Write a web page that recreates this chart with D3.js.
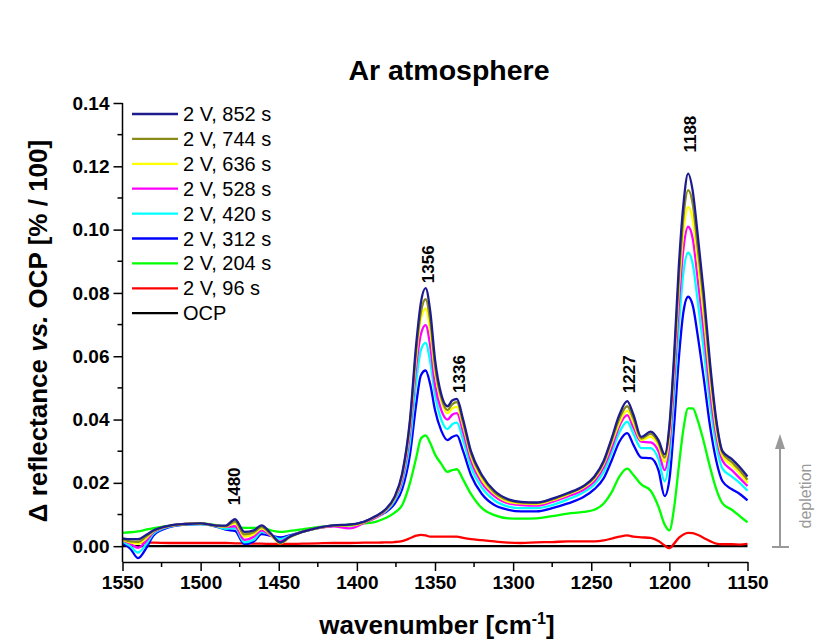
<!DOCTYPE html>
<html>
<head>
<meta charset="utf-8">
<script src="https://cdn.jsdelivr.net/npm/d3@7"></script>
<style>
  html, body { margin: 0; padding: 0; background: #fff; }
  svg { display: block; font-family: "Liberation Sans", Arial, sans-serif; }
</style>
</head>
<body>
<svg id="chart" width="834" height="640"></svg>
<script>
// Wavenumber grid (cm-1) shared by every spectrum
const wavenumbers = [1550, 1545, 1540, 1535, 1530, 1520, 1510, 1500, 1490, 1484,
  1478, 1472, 1466, 1461, 1455, 1449, 1443, 1435, 1425, 1415,
  1405, 1395, 1388, 1382, 1376, 1371, 1366, 1362, 1359, 1356,
  1353, 1350, 1346, 1342, 1339, 1336, 1332, 1327, 1320, 1312,
  1303, 1295, 1285, 1275, 1265, 1255, 1248, 1242, 1237, 1232,
  1227, 1223, 1218, 1212, 1207, 1203, 1200, 1197, 1194, 1191,
  1188, 1185, 1182, 1178, 1174, 1170, 1166, 1160, 1155, 1150];

// Δ reflectance vs. OCP [% / 100] after polarisation at 2 V
const r852 = [0.0025, 0.0022, 0.0022, 0.0035, 0.005, 0.0065, 0.007, 0.0072, 0.0065, 0.0065,
  0.0085, 0.0045, 0.005, 0.0066, 0.004, 0.0012, 0.003, 0.0045, 0.0058, 0.0066,
  0.0068, 0.0078, 0.0095, 0.0115, 0.0155, 0.023, 0.040, 0.064, 0.077, 0.0815,
  0.074, 0.059, 0.048, 0.0442, 0.046, 0.0465, 0.040, 0.030, 0.0225, 0.0175,
  0.0148, 0.014, 0.0138, 0.015, 0.0168, 0.019, 0.022, 0.027, 0.034, 0.0415,
  0.0458, 0.0415, 0.0345, 0.0362, 0.0335, 0.029, 0.038, 0.060, 0.088, 0.108,
  0.1177, 0.112, 0.099, 0.080, 0.058, 0.040, 0.030, 0.0275, 0.025, 0.022];
const r744 = [0.0022, 0.0015, 0.0014, 0.003, 0.0049, 0.0064, 0.007, 0.0072, 0.0065, 0.0063,
  0.0078, 0.0037, 0.0044, 0.006, 0.0037, 0.001, 0.0028, 0.0045, 0.0058, 0.0065,
  0.0067, 0.0077, 0.0094, 0.0113, 0.0152, 0.0225, 0.039, 0.062, 0.074, 0.078,
  0.071, 0.057, 0.047, 0.043, 0.0448, 0.0455, 0.039, 0.0293, 0.022, 0.017,
  0.0145, 0.0138, 0.0136, 0.0148, 0.0166, 0.0188, 0.0217, 0.0265, 0.0333, 0.0403,
  0.0442, 0.0403, 0.034, 0.0355, 0.0328, 0.028, 0.037, 0.058, 0.084, 0.104,
  0.1125, 0.108, 0.095, 0.077, 0.056, 0.039, 0.0295, 0.0265, 0.024, 0.021];
const r636 = [0.002, 0.0012, 0.0008, 0.0025, 0.0048, 0.0064, 0.007, 0.0071, 0.0064, 0.0062,
  0.0073, 0.003, 0.0038, 0.0056, 0.0035, 0.0009, 0.0028, 0.0045, 0.0057, 0.0065,
  0.0065, 0.0076, 0.0093, 0.0112, 0.015, 0.022, 0.038, 0.060, 0.072, 0.075,
  0.068, 0.055, 0.046, 0.042, 0.0435, 0.044, 0.038, 0.0285, 0.021, 0.0166,
  0.014, 0.0135, 0.0133, 0.0145, 0.0163, 0.0185, 0.0213, 0.026, 0.0325, 0.039,
  0.0428, 0.039, 0.0335, 0.0345, 0.0318, 0.0266, 0.035, 0.056, 0.081, 0.0995,
  0.1072, 0.103, 0.091, 0.073, 0.053, 0.037, 0.0285, 0.0255, 0.023, 0.020];
const r528 = [0.0018, 0.0008, -0.0005, 0.0015, 0.0045, 0.0063, 0.007, 0.0071, 0.0064, 0.006,
  0.0063, 0.002, 0.003, 0.005, 0.0033, 0.0015, 0.003, 0.0045, 0.0057, 0.0063,
  0.0056, 0.0074, 0.009, 0.011, 0.0148, 0.021, 0.036, 0.057, 0.067, 0.0698,
  0.063, 0.051, 0.043, 0.040, 0.0415, 0.042, 0.036, 0.027, 0.020, 0.0158,
  0.0135, 0.013, 0.0128, 0.014, 0.0157, 0.0178, 0.0205, 0.025, 0.031, 0.038,
  0.0414, 0.0375, 0.033, 0.0328, 0.030, 0.024, 0.032, 0.052, 0.076, 0.094,
  0.1009, 0.097, 0.085, 0.068, 0.049, 0.035, 0.027, 0.024, 0.0215, 0.019];
const r420 = [0.0015, 0.0, -0.002, 0.0005, 0.004, 0.0062, 0.0069, 0.007, 0.0063, 0.0055,
  0.0057, 0.0012, 0.002, 0.0045, 0.0035, 0.0022, 0.0032, 0.0045, 0.0057, 0.0065,
  0.0063, 0.0076, 0.009, 0.0108, 0.0143, 0.020, 0.033, 0.052, 0.062, 0.0642,
  0.058, 0.048, 0.040, 0.037, 0.0385, 0.039, 0.0335, 0.025, 0.0185, 0.0145,
  0.0125, 0.012, 0.012, 0.013, 0.0148, 0.017, 0.0195, 0.0235, 0.0295, 0.036,
  0.0393, 0.0355, 0.031, 0.031, 0.0275, 0.0205, 0.028, 0.047, 0.069, 0.0865,
  0.0927, 0.089, 0.078, 0.062, 0.045, 0.032, 0.0245, 0.022, 0.020, 0.0175];
const r312 = [0.001, -0.0008, -0.0038, -0.0008, 0.0035, 0.006, 0.0068, 0.007, 0.0062, 0.0052,
  0.0048, 0.0007, 0.0015, 0.0038, 0.0033, 0.0028, 0.0034, 0.0045, 0.0057, 0.0064,
  0.0067, 0.0078, 0.0092, 0.0106, 0.0133, 0.018, 0.029, 0.045, 0.054, 0.0555,
  0.051, 0.043, 0.0365, 0.0335, 0.0345, 0.035, 0.030, 0.0225, 0.0165, 0.013,
  0.0115, 0.011, 0.011, 0.012, 0.0135, 0.0155, 0.018, 0.0215, 0.027, 0.033,
  0.0357, 0.032, 0.028, 0.0278, 0.024, 0.0158, 0.021, 0.038, 0.059, 0.074,
  0.0788, 0.076, 0.067, 0.053, 0.038, 0.027, 0.0205, 0.018, 0.0165, 0.0145];
const r204 = [0.0042, 0.0044, 0.0047, 0.0052, 0.0057, 0.0064, 0.0069, 0.0072, 0.0066, 0.0061,
  0.006, 0.0058, 0.0058, 0.0058, 0.005, 0.0045, 0.0048, 0.0053, 0.006, 0.0065,
  0.0068, 0.0072, 0.0077, 0.0088, 0.0105, 0.013, 0.020, 0.028, 0.034, 0.035,
  0.0325, 0.029, 0.026, 0.0235, 0.024, 0.0243, 0.021, 0.0165, 0.012, 0.0098,
  0.0088, 0.0087, 0.0088, 0.0095, 0.0103, 0.0108, 0.0115, 0.0135, 0.017, 0.022,
  0.0245, 0.0225, 0.0195, 0.0175, 0.0125, 0.0068, 0.005, 0.012, 0.025, 0.037,
  0.0435, 0.0435, 0.040, 0.033, 0.025, 0.018, 0.0135, 0.0115, 0.0095, 0.0075];
const r96 = [0.0012, 0.0011, 0.0011, 0.0011, 0.0011, 0.001, 0.001, 0.001, 0.001, 0.001,
  0.0009, 0.0009, 0.0008, 0.0008, 0.0007, 0.0007, 0.0007, 0.0008, 0.0009, 0.001,
  0.001, 0.0011, 0.0011, 0.0012, 0.0013, 0.0016, 0.0025, 0.0033, 0.0036, 0.0034,
  0.003, 0.003, 0.003, 0.003, 0.003, 0.003, 0.0026, 0.0022, 0.0019, 0.0015,
  0.0011, 0.001, 0.0012, 0.0013, 0.0015, 0.0015, 0.0015, 0.0018, 0.0024, 0.003,
  0.0034, 0.003, 0.0028, 0.0026, 0.0016, 0.0002, -0.0006, 0.0008, 0.0026, 0.0037,
  0.0042, 0.0041, 0.0036, 0.0026, 0.0016, 0.0008, 0.0006, 0.0006, 0.0005, 0.0007];
const rOCP = wavenumbers.map(() => 0);

const seriesNames = ["2 V, 852 s", "2 V, 744 s", "2 V, 636 s", "2 V, 528 s",
  "2 V, 420 s", "2 V, 312 s", "2 V, 204 s", "2 V, 96 s", "OCP"];
const seriesValues = [r852, r744, r636, r528, r420, r312, r204, r96, rOCP];
const seriesColors = ["#1c1c8f", "#8a8a1a", "#ffff00", "#ff00ff", "#00ffff",
  "#0000ff", "#00ff00", "#ff0000", "#000000"];

// Assigned bands
const bandPositions = [1480, 1356, 1336, 1227, 1188];
const bandLabels = ["1480", "1356", "1336", "1227", "1188"];

const xTicks = [1550, 1500, 1450, 1400, 1350, 1300, 1250, 1200, 1150];
const yTicks = [0, 0.02, 0.04, 0.06, 0.08, 0.10, 0.12, 0.14];

const svg = d3.select("#chart");
const plotLeft = 122.5, plotRight = 747.5, plotTop = 103, plotBottom = 562;

const x = d3.scaleLinear().domain([1550, 1150]).range([plotLeft, plotRight]);
const y = d3.scaleLinear().domain([-0.005, 0.14]).range([plotBottom, plotTop]);

// Title
svg.append("text")
  .attr("x", 449).attr("y", 80)
  .attr("text-anchor", "middle")
  .attr("font-size", 28.5).attr("font-weight", "bold")
  .text("Ar atmosphere");

// Spectra: OCP reference first, then shortest to longest polarisation time
const line = d3.line()
  .x((d, i) => x(wavenumbers[i]))
  .y(d => y(d))
  .curve(d3.curveMonotoneX);

const drawOrder = [8, 7, 6, 5, 4, 3, 2, 1, 0];
const plot = svg.append("g");
drawOrder.forEach(k => {
  plot.append("path")
    .datum(seriesValues[k])
    .attr("fill", "none")
    .attr("stroke", seriesColors[k])
    .attr("stroke-width", 2.3)
    .attr("stroke-linejoin", "round")
    .attr("d", line);
});

// Axes (outward ticks, minor ticks between labels)
const axisColor = "#000";
const xAxis = svg.append("g").attr("transform", `translate(0,${plotBottom})`);
xAxis.call(d3.axisBottom(x).tickValues(xTicks).tickFormat(d3.format("d"))
  .tickSizeInner(9).tickSizeOuter(0).tickPadding(5));
xAxis.append("g").selectAll("line")
  .data(d3.range(1525, 1150, -50))
  .join("line")
  .attr("x1", d => x(d)).attr("x2", d => x(d))
  .attr("y1", 0).attr("y2", 5)
  .attr("stroke", axisColor).attr("stroke-width", 1.5);

const yAxis = svg.append("g").attr("transform", `translate(${plotLeft},0)`);
yAxis.call(d3.axisLeft(y).tickValues(yTicks).tickFormat(d3.format(".2f"))
  .tickSizeInner(9).tickSizeOuter(0).tickPadding(4));
yAxis.select(".domain").attr("d", `M0,${y(0.14)}V${plotBottom}`);
yAxis.append("g").selectAll("line")
  .data(d3.range(0.01, 0.14, 0.02))
  .join("line")
  .attr("x1", 0).attr("x2", -5)
  .attr("y1", d => y(d)).attr("y2", d => y(d))
  .attr("stroke", axisColor).attr("stroke-width", 1.5);

[xAxis, yAxis].forEach(g => {
  g.selectAll(".domain").attr("stroke", axisColor).attr("stroke-width", 1.5);
  g.selectAll(".tick line").attr("stroke", axisColor).attr("stroke-width", 1.5);
  g.selectAll(".tick text")
    .attr("font-family", "Liberation Sans, Arial, sans-serif")
    .attr("font-size", 19).attr("font-weight", "bold").attr("fill", "#000");
});

// Axis titles
const xTitle = svg.append("text")
  .attr("x", 437).attr("y", 634)
  .attr("text-anchor", "middle")
  .attr("font-size", 26).attr("font-weight", "bold");
xTitle.append("tspan").text("wavenumber [cm");
xTitle.append("tspan").attr("font-size", 16).attr("dy", -10).text("-1");
xTitle.append("tspan").attr("dy", 10).text("]");

const yTitle = svg.append("text")
  .attr("transform", "translate(47,331) rotate(-90)")
  .attr("text-anchor", "middle")
  .attr("font-size", 26).attr("font-weight", "bold");
yTitle.append("tspan").text("\u0394 reflectance ");
yTitle.append("tspan").attr("font-style", "italic").text("vs.");
yTitle.append("tspan").text(" OCP [% / 100]");

// Band labels above the strongest spectrum at the nearest grid point
const bandGap = [14, 5, 6, 8, 21];
bandPositions.forEach((wn, i) => {
  const idx = d3.minIndex(wavenumbers, w => Math.abs(w - wn));
  const peak = d3.max(seriesValues, s => s[idx]);
  svg.append("text")
    .attr("transform", `translate(${x(wn) + 2},${y(peak) - bandGap[i]}) rotate(-90)`)
    .attr("dy", "0.35em")
    .attr("font-size", 17).attr("font-weight", "bold")
    .text(bandLabels[i]);
});

// Legend
const legend = svg.append("g");
seriesNames.forEach((name, i) => {
  const ly = 114 + i * 24.9;
  legend.append("line")
    .attr("x1", 132).attr("x2", 178)
    .attr("y1", ly).attr("y2", ly)
    .attr("stroke", seriesColors[i]).attr("stroke-width", 2.3);
  legend.append("text")
    .attr("x", 183).attr("y", ly + 7)
    .attr("font-size", 20)
    .text(name);
});

// Depletion arrow
const arrow = svg.append("g").attr("stroke", "#999").attr("fill", "#999");
arrow.append("line").attr("x1", 780).attr("x2", 780).attr("y1", 446).attr("y2", 547)
  .attr("stroke-width", 2);
arrow.append("line").attr("x1", 772).attr("x2", 789).attr("y1", 547).attr("y2", 547)
  .attr("stroke-width", 2);
arrow.append("path").attr("d", "M780,434 L775,449 L785,449 Z").attr("stroke", "none");
svg.append("text")
  .attr("transform", "translate(805,496) rotate(-90)")
  .attr("text-anchor", "middle").attr("dy", "0.35em")
  .attr("font-size", 16).attr("fill", "#999")
  .text("depletion");
</script>
</body>
</html>
